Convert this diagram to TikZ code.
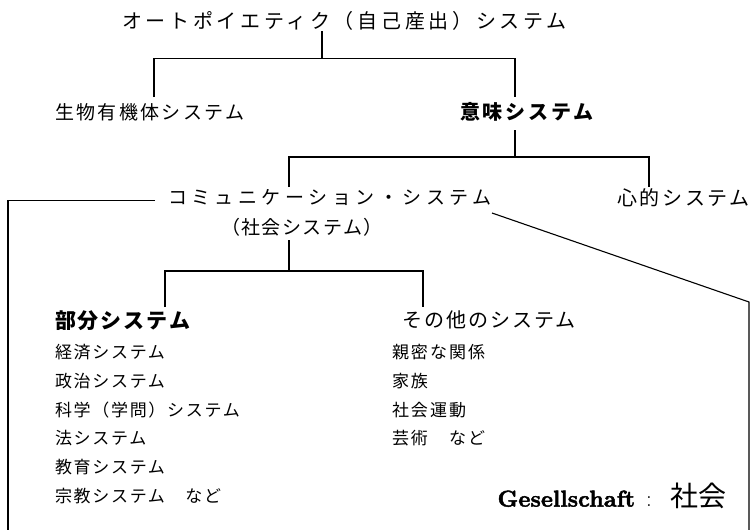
\documentclass[tikz,border=0pt]{standalone}
\usepackage{fontspec}
\newfontfamily\jp{Noto Sans CJK JP}
\newfontfamily\gesfont{lmroman10-bold}[Extension=.otf, FakeBold=2]
\newcommand{\jpt}[2]{\fontsize{#1}{#1}\selectfont\jp\addfontfeature{LetterSpace=#2}}
\newcommand{\jpb}[2]{\fontsize{#1}{#1}\selectfont\jp\bfseries\addfontfeature{LetterSpace=#2}}
\begin{document}
\begin{tikzpicture}[x=1pt,y=-1pt,
  lbl/.style={anchor=west,inner sep=0pt,outer sep=0pt},
  conn/.style={line width=1.1pt,line join=miter}]
\fill[white] (0,0) rectangle (755,530);
\useasboundingbox (0,0) rectangle (755,530);
% texts
\node[lbl] (title) at (122,21) {\jpt{20}{18.5}オートポイエティク（自己産出）システム};
\node[lbl] (bio) at (55,112) {\jpt{19}{12.6}生物有機体システム};
\node[lbl] (imi) at (460,112) {\jpb{20}{14}意味システム};
\node[lbl] (comm) at (168,198) {\jpt{19}{23.7}コミュニケーション・システム};
\node[lbl] (shin) at (617,198) {\jpt{20}{13.5}心的システム};
\node[lbl] (shakai) at (221,227) {\jpt{19}{7.9}（社会システム）};
\node[lbl] (bubun) at (55,321) {\jpb{21}{9.5}部分システム};
\node[lbl] (sonota) at (402,320) {\jpt{20}{10}その他のシステム};
\node[lbl] (l1) at (55,352) {\jpt{17}{10}経済システム};
\node[lbl] (l2) at (55,380.8) {\jpt{17}{10}政治システム};
\node[lbl] (l3) at (55,409.6) {\jpt{17}{10}科学（学問）システム};
\node[lbl] (l4) at (55,438.4) {\jpt{17}{10}法システム};
\node[lbl] (l5) at (55,467.2) {\jpt{17}{10}教育システム};
\node[lbl] (l6) at (55,496) {\jpt{17}{10}宗教システム　など};
\node[lbl] (r1) at (392,352) {\jpt{17}{11.8}親密な関係};
\node[lbl] (r2) at (392,380.8) {\jpt{17}{11.8}家族};
\node[lbl] (r3) at (392,409.6) {\jpt{17}{11.8}社会運動};
\node[lbl] (r4) at (392,438.4) {\jpt{17}{11.8}芸術　など};
\node[anchor=east,inner sep=0pt] (ges) at (727,496) {\fontsize{23}{23}\selectfont{\gesfont Gesellschaft}\hspace{11pt}:\hspace{19pt}{\jpt{28}{0}社会}};
% joints
\coordinate (a0) at (322,31);
\coordinate (a1) at (322,58.5);
\coordinate (aL) at (154,58.5);
\coordinate (aR) at (515,58.5);
\coordinate (aLd) at (154,97);
\coordinate (aRd) at (515,97);
\coordinate (b0) at (515,130);
\coordinate (b1) at (515,157);
\coordinate (bL) at (289,157);
\coordinate (bR) at (649,157);
\coordinate (bLd) at (289,187);
\coordinate (bRd) at (649,187);
\coordinate (c0) at (289,240);
\coordinate (c1) at (289,271);
\coordinate (cL) at (165,271);
\coordinate (cR) at (423,271);
\coordinate (cLd) at (165,307);
\coordinate (cRd) at (423,307);
\coordinate (s0) at (155,200.7);
\coordinate (s1) at (8,200.7);
\coordinate (s2) at (8,530);
\coordinate (d0) at (492,213);
\coordinate (d1) at (749,302);
\coordinate (d2) at (749,530);
% connectors
\draw[conn] (a0) -- (a1);
\draw[conn] (aLd) -- (aL) -- (aR) -- (aRd);
\draw[conn] (b0) -- (b1);
\draw[conn] (bLd) -- (bL) -- (bR) -- (bRd);
\draw[conn] (c0) -- (c1);
\draw[conn] (cLd) -- (cL) -- (cR) -- (cRd);
\draw[conn] (s0) -- (s1) -- (s2);
\draw[conn] (d0) -- (d1) -- (d2);
\end{tikzpicture}
\end{document}
